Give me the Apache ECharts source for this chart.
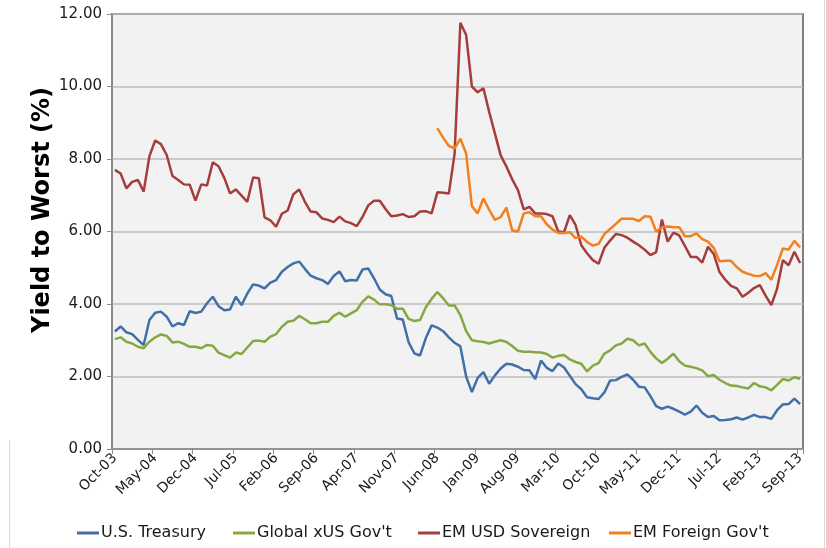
<!DOCTYPE html>
<html>
<head>
<meta charset="utf-8">
<script src="https://cdn.jsdelivr.net/npm/echarts@6/dist/echarts.min.js"></script>
<style>
html,body{margin:0;padding:0;background:#fff;}
#chart{width:826px;height:548px;}
</style>
</head>
<body>
<div id="chart"></div>
<script>
// Monthly categories Oct-03 .. Sep-13
const monthNames = ['Jan','Feb','Mar','Apr','May','Jun','Jul','Aug','Sep','Oct','Nov','Dec'];
const categories = [];
for (let k = 0; k < 120; k++) {
  const m = (9 + k) % 12;
  const y = 3 + Math.floor((9 + k) / 12);
  categories.push(monthNames[m] + '-' + String(y).padStart(2, '0'));
}

const yTickLabels = ['0.00','2.00','4.00','6.00','8.00','10.00','12.00'];
const yAxisTitle = 'Yield to Worst (%)';

const usTreasury = [
  3.24,3.38,3.22,3.17,3.01,2.87,3.56,3.76,3.79,3.65,3.38,3.47,3.42,3.80,3.75,3.79,4.02,4.20,3.94,3.83,
  3.85,4.20,3.97,4.29,4.54,4.51,4.43,4.59,4.66,4.89,5.02,5.12,5.17,4.97,4.78,4.71,4.66,4.55,4.77,4.90,
  4.63,4.66,4.65,4.95,4.98,4.71,4.40,4.27,4.22,3.60,3.57,2.95,2.64,2.58,3.06,3.41,3.35,3.25,3.08,2.93,
  2.83,2.00,1.57,1.96,2.12,1.80,2.03,2.22,2.35,2.33,2.27,2.18,2.17,1.93,2.44,2.24,2.15,2.36,2.25,2.02,
  1.79,1.65,1.43,1.40,1.38,1.56,1.89,1.90,1.99,2.06,1.91,1.72,1.70,1.46,1.18,1.11,1.17,1.11,1.03,0.95,
  1.03,1.20,1.00,0.88,0.91,0.79,0.80,0.82,0.87,0.81,0.87,0.94,0.88,0.88,0.83,1.07,1.23,1.24,1.39,1.24
];
const globalXUS = [
  3.03,3.08,2.96,2.91,2.82,2.78,2.96,3.08,3.16,3.12,2.94,2.96,2.90,2.82,2.82,2.78,2.87,2.85,2.66,2.59,
  2.52,2.66,2.62,2.80,2.98,2.99,2.96,3.10,3.17,3.37,3.51,3.54,3.67,3.58,3.47,3.47,3.51,3.51,3.67,3.76,
  3.65,3.74,3.83,4.06,4.21,4.12,3.99,3.99,3.97,3.87,3.87,3.59,3.53,3.56,3.91,4.14,4.33,4.16,3.96,3.96,
  3.69,3.25,3.00,2.97,2.95,2.91,2.96,3.00,2.95,2.84,2.71,2.68,2.68,2.67,2.66,2.62,2.52,2.57,2.59,2.47,
  2.40,2.35,2.14,2.30,2.37,2.63,2.72,2.86,2.91,3.04,3.00,2.86,2.91,2.68,2.50,2.37,2.49,2.63,2.42,2.30,
  2.27,2.23,2.17,2.01,2.04,1.91,1.82,1.75,1.74,1.70,1.67,1.82,1.73,1.70,1.62,1.77,1.93,1.89,1.98,1.94
];
const emUSDSov = [
  7.70,7.60,7.19,7.37,7.42,7.10,8.08,8.51,8.41,8.11,7.53,7.42,7.30,7.29,6.85,7.30,7.27,7.91,7.80,7.48,
  7.05,7.16,6.99,6.82,7.49,7.47,6.39,6.31,6.13,6.49,6.58,7.03,7.16,6.82,6.55,6.53,6.36,6.32,6.26,6.41,
  6.28,6.23,6.15,6.40,6.72,6.85,6.85,6.62,6.42,6.44,6.48,6.40,6.42,6.55,6.56,6.50,7.08,7.07,7.05,8.15,
  11.76,11.42,10.00,9.84,9.95,9.30,8.70,8.10,7.79,7.44,7.14,6.61,6.68,6.50,6.50,6.48,6.42,6.00,5.98,6.45,
  6.18,5.62,5.40,5.21,5.11,5.55,5.75,5.93,5.90,5.83,5.72,5.62,5.50,5.35,5.43,6.33,5.72,5.97,5.89,5.60,
  5.30,5.30,5.14,5.58,5.38,4.88,4.67,4.50,4.43,4.20,4.31,4.44,4.52,4.23,3.97,4.42,5.21,5.07,5.44,5.13
];
const emForeignGov = [
  null,null,null,null,null,null,null,null,null,null,null,null,null,null,null,null,null,null,null,null,
  null,null,null,null,null,null,null,null,null,null,null,null,null,null,null,null,null,null,null,null,
  null,null,null,null,null,null,null,null,null,null,null,null,null,null,null,null,8.85,8.59,8.36,8.29,
  8.56,8.15,6.70,6.50,6.91,6.60,6.32,6.40,6.66,6.03,6.00,6.50,6.53,6.42,6.42,6.20,6.05,5.96,5.96,5.98,
  5.82,5.86,5.71,5.61,5.66,5.93,6.07,6.21,6.35,6.35,6.35,6.29,6.42,6.41,6.00,6.12,6.14,6.12,6.12,5.87,
  5.87,5.95,5.79,5.72,5.55,5.18,5.19,5.19,5.02,4.89,4.83,4.78,4.77,4.85,4.67,5.08,5.53,5.50,5.74,5.56
];

const seriesNames = ['U.S. Treasury', "Global xUS Gov't", 'EM USD Sovereign', "EM Foreign Gov't"];
const seriesColors = ['#4170A8', '#86A843', '#A63D3D', '#F2801E'];
const seriesData = [usTreasury, globalXUS, emUSDSov, emForeignGov];
const legendLefts = [72, 228, 413, 604];

const FONT = 'DejaVu Sans';
const chart = echarts.init(document.getElementById('chart'), null, {renderer: 'canvas'});
chart.setOption({
  animation: false,
  backgroundColor: '#ffffff',
  textStyle: {fontFamily: FONT},
  grid: {
    left: 112, right: 23, top: 14, bottom: 99,
    show: true, backgroundColor: '#F2F2F2', borderColor: '#7F7F7F', borderWidth: 2
  },
  xAxis: {
    type: 'category',
    data: categories,
    boundaryGap: true,
    axisLine: {lineStyle: {color: '#8C8C8C', width: 1.5}},
    axisTick: {show: true, interval: 6, length: 5, lineStyle: {color: '#8C8C8C'}},
    axisLabel: {interval: 6, rotate: 45, fontSize: 14, color: '#1a1a1a', fontFamily: FONT, margin: 7},
    splitLine: {show: false}
  },
  yAxis: {
    type: 'value',
    min: 0, max: 12, interval: 2,
    axisLine: {show: true, lineStyle: {color: '#8C8C8C', width: 1.5}},
    axisTick: {show: true, length: 5, lineStyle: {color: '#8C8C8C'}},
    axisLabel: {
      fontSize: 15, color: '#1a1a1a', fontFamily: FONT, margin: 10,
      formatter: function (v) { return yTickLabels[Math.round(v / 2)]; }
    },
    splitLine: {show: true, lineStyle: {color: '#BDBDBD', width: 1.5}}
  },
  legend: seriesNames.map((n, i) => ({
    data: [n],
    top: 520,
    left: legendLefts[i],
    icon: 'rect',
    itemWidth: 22,
    itemHeight: 3,
    textStyle: {fontSize: 16, color: '#1a1a1a', fontFamily: FONT, padding: [0, 0, 0, -3]}
  })),
  graphic: [
    {type: 'line', shape: {x1: 824.5, y1: 0, x2: 824.5, y2: 548}, style: {stroke: '#D9D9D9', lineWidth: 1}},
    {type: 'line', shape: {x1: 9.5, y1: 440, x2: 9.5, y2: 548}, style: {stroke: '#D9D9D9', lineWidth: 1}},
    {type: 'text', x: 43, y: 210, rotation: Math.PI / 2,
     style: {text: yAxisTitle, fontSize: 24, fontWeight: 'bold', fill: '#000', fontFamily: FONT,
             textAlign: 'center', textVerticalAlign: 'middle'}}
  ],
  series: seriesNames.map((n, i) => ({
    name: n,
    type: 'line',
    data: seriesData[i],
    showSymbol: false,
    symbol: 'none',
    connectNulls: false,
    lineStyle: {color: seriesColors[i], width: 2.5},
    itemStyle: {color: seriesColors[i]}
  }))
});
</script>
</body>
</html>
